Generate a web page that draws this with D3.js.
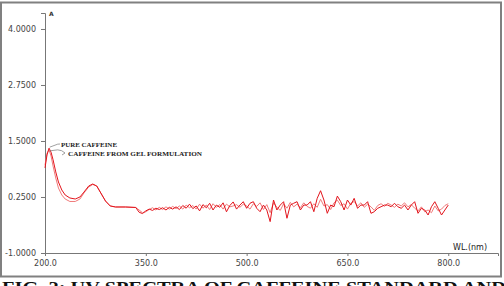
<!DOCTYPE html>
<html>
<head>
<meta charset="utf-8">
<script src="https://cdn.jsdelivr.net/npm/d3@7"></script>
<style>
  body { margin: 0; background: #fff; }
  svg { display: block; }
  .axis path, .axis line { stroke: #777; }
  .axis text { font-family: "DejaVu Sans", sans-serif; font-size: 8px; fill: #444; }
</style>
</head>
<body>
<svg id="chart" width="504" height="286"></svg>
<script>
// wavelengths (nm)
var wavelengths = [200, 203, 206, 209, 212, 216, 220, 225, 230, 237, 245, 252, 258, 265, 271, 277, 283, 290, 297, 305, 320, 335,
    340, 345, 350, 355, 360, 365, 370, 375, 380, 385, 390, 395, 400, 405, 410, 415, 420, 425, 430, 435, 440, 445, 450, 455, 460, 465, 470, 475, 480, 485,
    490, 495, 500, 505, 510, 515, 520, 525, 530, 535, 540, 545, 550, 555, 560, 565, 570, 575, 580, 585, 590, 595, 600, 605, 610, 615, 620, 625, 630, 635, 640, 645,
    650, 655, 660, 665, 670, 675, 680, 685, 690, 695, 700, 705, 710, 715, 720, 725, 730, 735, 740, 745, 750, 755, 760, 765, 770, 775, 780, 785, 790, 795, 800];

// absorbance, pure caffeine (darker red)
var pureCaffeine = [0.90, 1.19, 1.34, 1.25, 1.08, 0.81, 0.585, 0.406, 0.295, 0.228, 0.205, 0.25, 0.36, 0.495, 0.54, 0.495, 0.34, 0.16, 0.05, 0.027, 0.027, 0.016,
    -0.09, -0.12, -0.06, -0.02, -0.05, 0.00, -0.03, 0.01, -0.04, 0.02, -0.02, 0.03, -0.03, 0.06, 0.00, 0.09, -0.01, 0.05, -0.06, 0.08, 0.01, 0.11, -0.04, 0.07, 0.02, 0.12, -0.08, 0.06, 0.14, -0.02,
    0.07, 0.145, -0.002, 0.11, 0.145, -0.002, -0.078, 0.07, -0.04, -0.30, 0.183, -0.04, 0.07, 0.145, -0.225, 0.07, 0.11, 0.145, -0.04, 0.07, 0.07, 0.145, -0.078, 0.22, 0.39, 0.183, -0.114, 0.07, 0.033, 0.27, 0.145, -0.04,
    0.183, 0.07, 0.22, -0.002, 0.07, 0.07, 0.145, -0.114, -0.078, -0.002, 0.033, 0.07, 0.07, 0.033, 0.11, 0.033, -0.002, 0.07, -0.04, 0.07, 0.145, -0.114, -0.002, -0.04, -0.152, 0.033, 0.145, -0.002, -0.152, -0.04, 0.07];

// absorbance, caffeine from gel formulation (lighter red)
var gelCaffeine = [0.96, 1.23, 1.30, 1.165, 0.94, 0.674, 0.45, 0.295, 0.205, 0.15, 0.15, 0.205, 0.34, 0.473, 0.53, 0.495, 0.34, 0.16, 0.05, 0.027, 0.027, 0.016,
    -0.04, -0.10, -0.08, -0.03, 0.01, -0.04, 0.02, -0.03, 0.03, -0.02, 0.04, -0.01, 0.05, -0.02, 0.07, 0.01, 0.06, -0.02, 0.09, 0.00, 0.07, -0.03, 0.10, 0.02, 0.08, -0.02, 0.09, 0.03, 0.05, 0.08,
    0.02, 0.09, 0.05, -0.02, 0.10, 0.04, 0.12, -0.03, 0.08, -0.10, 0.12, 0.02, -0.05, 0.10, 0.00, 0.13, 0.03, 0.09, 0.01, 0.12, 0.04, 0.00, 0.10, 0.02, 0.20, 0.05, 0.08, -0.03, 0.12, 0.18, 0.06, 0.10,
    -0.02, 0.11, 0.15, 0.05, 0.12, 0.02, 0.09, 0.03, -0.05, 0.06, 0.10, 0.04, 0.11, 0.07, 0.02, 0.09, 0.05, 0.12, 0.03, 0.08, 0.00, -0.06, 0.03, -0.08, -0.04, -0.10, 0.05, -0.06, -0.02, 0.06, 0.10];

var xTicks = [200, 350, 500, 650, 800];
var yTicks = [-1, 0.25, 1.5, 2.75, 4];
var seriesNames = ["PURE CAFFEINE", "CAFFEINE FROM GEL FORMULATION"];
var caption = "FIG. 2: UV SPECTRA OF CAFFEINE STANDARD AND";

var svg = d3.select("#chart");

// frame
svg.append("rect")
    .attr("x", 1).attr("y", 2.5)
    .attr("width", 500).attr("height", 274)
    .attr("fill", "none")
    .attr("stroke", "#808080")
    .attr("stroke-width", 2);

var x = d3.scaleLinear().domain([200, 874]).range([45, 498]),
    y = d3.scaleLinear().domain([-1, 4.357]).range([253, 13]);

svg.append("g")
    .attr("class", "axis")
    .attr("transform", "translate(0,253)")
    .call(d3.axisBottom(x).tickValues(xTicks).tickSizeOuter(0).tickSize(3).tickPadding(4)
        .tickFormat(function(d) { return d.toFixed(1); }));

svg.append("g")
    .attr("class", "axis")
    .attr("transform", "translate(45,0)")
    .call(d3.axisLeft(y).tickValues(yTicks).tickSizeOuter(0).tickSize(4).tickPadding(5)
        .tickFormat(function(d) { return d.toFixed(4); }));

svg.append("text")
    .attr("x", 49).attr("y", 16)
    .style("font-family", "DejaVu Sans, sans-serif")
    .style("font-size", "6px")
    .style("font-weight", "bold")
    .attr("fill", "#333")
    .text("A");

svg.append("text")
    .attr("x", 453).attr("y", 250)
    .style("font-family", "DejaVu Sans, sans-serif")
    .style("font-size", "8px")
    .attr("fill", "#222")
    .text("WL.(nm)");

var line = function(vals) {
    return d3.line()
        .x(function(d, i) { return x(wavelengths[i]); })
        .y(function(d) { return y(d); })(vals);
};

svg.append("path")
    .attr("d", line(gelCaffeine))
    .attr("fill", "none")
    .attr("stroke", "#f07a7a")
    .attr("stroke-width", 1);

svg.append("path")
    .attr("d", line(pureCaffeine))
    .attr("fill", "none")
    .attr("stroke", "#e3141c")
    .attr("stroke-width", 1);

// leader lines for the labels
svg.append("path")
    .attr("d", "M" + x(207) + "," + (y(1.34) - 1) + " L" + (x(207) + 8) + "," + (y(1.34) - 4) + " L60,144")
    .attr("fill", "none").attr("stroke", "#777").attr("stroke-width", 0.7);
svg.append("path")
    .attr("d", "M" + x(207) + "," + y(1.28) + " L" + (x(207) + 8) + "," + (y(1.28) - 1) + " Q62,150 65,153 L62,155")
    .attr("fill", "none").attr("stroke", "#777").attr("stroke-width", 0.7);

svg.selectAll(".series-label")
    .data(seriesNames)
    .enter().append("text")
    .attr("class", "series-label")
    .attr("x", function(d, i) { return i == 0 ? 61 : 68; })
    .attr("y", function(d, i) { return i == 0 ? 146.5 : 156; })
    .attr("textLength", function(d, i) { return i == 0 ? 56 : 134; })
    .attr("lengthAdjust", "spacingAndGlyphs")
    .style("font-family", "Liberation Serif, serif")
    .style("font-size", "6.5px")
    .style("font-weight", "bold")
    .attr("fill", "#222")
    .text(function(d) { return d; });

svg.append("text")
    .attr("x", 2).attr("y", 292.5)
    .attr("textLength", 504)
    .attr("lengthAdjust", "spacingAndGlyphs")
    .style("font-family", "Liberation Serif, serif")
    .style("font-size", "17px")
    .style("font-weight", "bold")
    .attr("fill", "#111")
    .text(caption);
</script>
</body>
</html>
